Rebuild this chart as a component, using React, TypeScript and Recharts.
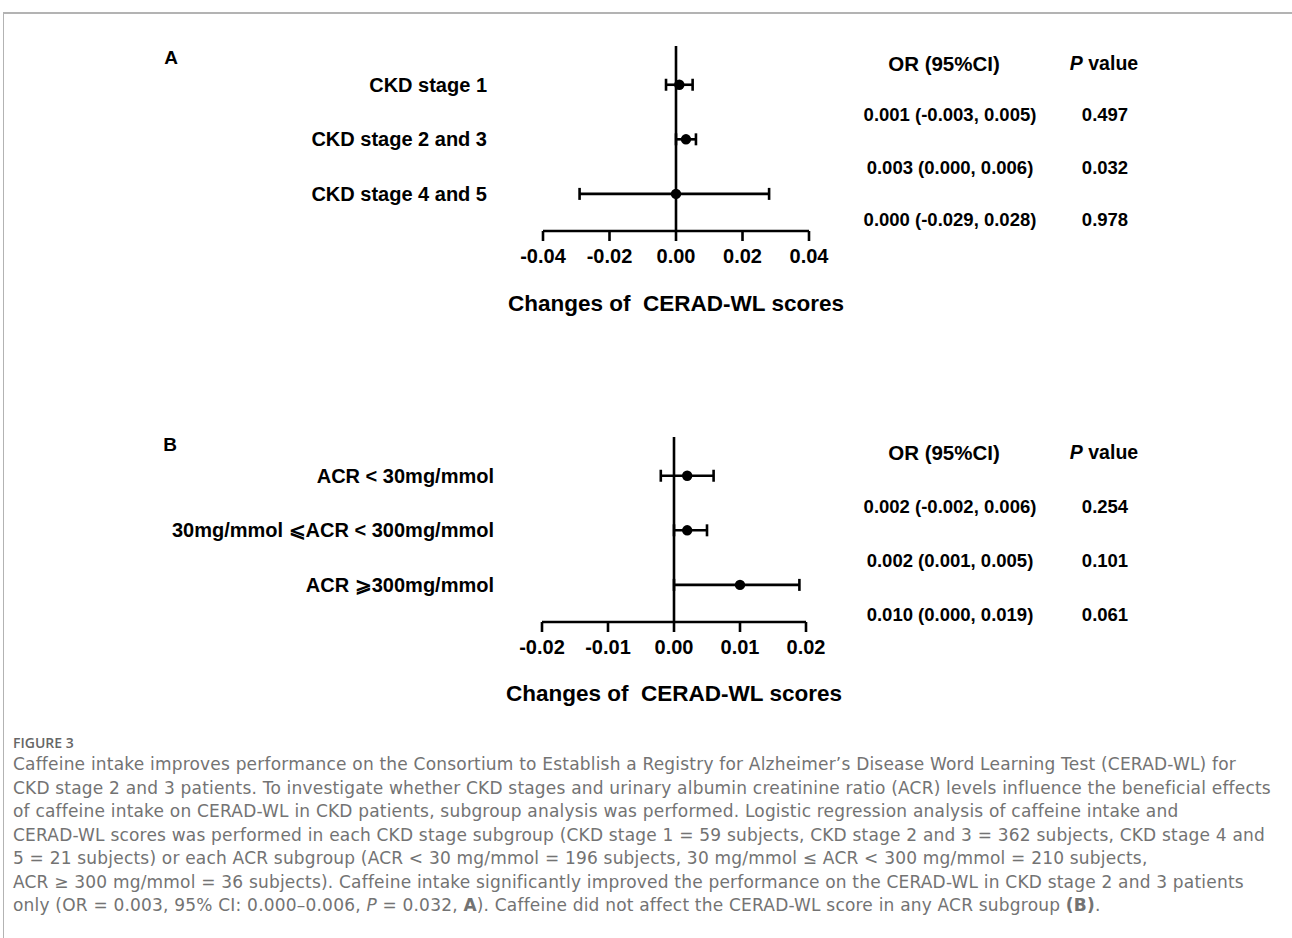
import React from 'react';
import { ScatterChart, Scatter, XAxis, YAxis, ErrorBar, ReferenceLine } from 'recharts';

// Panel A - CKD stage subgroups
const labelsA = ['CKD stage 1', 'CKD stage 2 and 3', 'CKD stage 4 and 5'];
const estA = [0.001, 0.003, 0.0];
const lowA = [-0.003, 0.0, -0.029];
const highA = [0.005, 0.006, 0.028];
const orTextA = ['0.001 (-0.003, 0.005)', '0.003 (0.000, 0.006)', '0.000 (-0.029, 0.028)'];
const pA = ['0.497', '0.032', '0.978'];
const ticksA = [-0.04, -0.02, 0, 0.02, 0.04];

// Panel B - ACR subgroups
const labelsB = ['ACR < 30mg/mmol', '30mg/mmol \u2A7DACR < 300mg/mmol', 'ACR \u2A7E300mg/mmol'];
const estB = [0.002, 0.002, 0.01];
const lowB = [-0.002, 0.0, 0.0];
const highB = [0.006, 0.005, 0.019];
const orTextB = ['0.002 (-0.002, 0.006)', '0.002 (0.001, 0.005)', '0.010 (0.000, 0.019)'];
const pB = ['0.254', '0.101', '0.061'];
const ticksB = [-0.02, -0.01, 0, 0.01, 0.02];

const captionLines = [
  'Caffeine intake improves performance on the Consortium to Establish a Registry for Alzheimer\u2019s Disease Word Learning Test (CERAD-WL) for',
  'CKD stage 2 and 3 patients. To investigate whether CKD stages and urinary albumin creatinine ratio (ACR) levels influence the beneficial effects',
  'of caffeine intake on CERAD-WL in CKD patients, subgroup analysis was performed. Logistic regression analysis of caffeine intake and',
  'CERAD-WL scores was performed in each CKD stage subgroup (CKD stage 1 = 59 subjects, CKD stage 2 and 3 = 362 subjects, CKD stage 4 and',
  '5 = 21 subjects) or each ACR subgroup (ACR < 30 mg/mmol = 196 subjects, 30 mg/mmol \u2264 ACR < 300 mg/mmol = 210 subjects,',
  'ACR \u2265 300 mg/mmol = 36 subjects). Caffeine intake significantly improved the performance on the CERAD-WL in CKD stage 2 and 3 patients',
];

const FONT = '"Liberation Sans", Arial, sans-serif';
const CAPTION_FONT = '"DejaVu Sans", "Open Sans", sans-serif';

interface ForestProps {
  top: number;
  plotLeft: number;
  plotRight: number;
  labelGap: number;
  labels: string[];
  est: number[];
  low: number[];
  high: number[];
  ticks: number[];
}

function Forest({ top, plotLeft, plotRight, labelGap, labels, est, low, high, ticks }: ForestProps) {
  const rows = est.map((v, i) => ({ x: v, y: i, err: [v - low[i], high[i] - v] }));
  const width = plotRight + 40;
  return (
    <div style={{ position: 'absolute', left: 0, top }}>
      <ScatterChart width={width} height={280} margin={{ top: 46, right: 40, left: 0, bottom: 5 }}>
        <XAxis
          type="number"
          dataKey="x"
          domain={[ticks[0], ticks[ticks.length - 1]]}
          ticks={ticks}
          tickFormatter={(v: number) => v.toFixed(2)}
          axisLine={{ stroke: '#000', strokeWidth: 2.6 }}
          tickLine={{ stroke: '#000', strokeWidth: 2.6 }}
          tickSize={10}
          tickMargin={8}
          height={44}
          tick={{ fill: '#000', fontSize: 20, fontWeight: 700, fontFamily: FONT }}
          interval={0}
        />
        <YAxis
          type="number"
          dataKey="y"
          domain={[-0.71, 2.68]}
          reversed
          ticks={[0, 1, 2]}
          interval={0}
          tickFormatter={(i: number) => labels[i] ?? ''}
          axisLine={false}
          tickLine={false}
          tickSize={0}
          tickMargin={labelGap}
          width={plotLeft}
          tick={{ fill: '#000', fontSize: 20, fontWeight: 700, fontFamily: FONT }}
        />
        <ReferenceLine x={0} stroke="#000" strokeWidth={2.6} />
        <Scatter
          data={rows}
          isAnimationActive={false}
          shape={(p: any) => <circle cx={p.cx} cy={p.cy} r={5.2} fill="#000" />}
        >
          <ErrorBar dataKey="err" direction="x" width={6} strokeWidth={2.6} stroke="#000" isAnimationActive={false} />
        </Scatter>
      </ScatterChart>
    </div>
  );
}

const centered = (cx: number, cy: number, fs: number): React.CSSProperties => ({
  position: 'absolute',
  left: cx,
  top: cy - fs / 2,
  transform: 'translateX(-50%)',
  fontSize: fs,
  lineHeight: `${fs}px`,
  fontWeight: 700,
  fontFamily: FONT,
  color: '#000',
  whiteSpace: 'nowrap',
});

function Table({ headerY, rowY, orText, pText }: { headerY: number; rowY: number[]; orText: string[]; pText: string[] }) {
  return (
    <>
      <div style={centered(944, headerY, 20.5)}>OR (95%CI)</div>
      <div style={centered(1104, headerY, 19.5)}>
        <i>P</i> value
      </div>
      {orText.map((t, i) => (
        <div key={'or' + i} style={centered(950, rowY[i], 18.5)}>{t}</div>
      ))}
      {pText.map((t, i) => (
        <div key={'p' + i} style={centered(1105, rowY[i], 18.5)}>{t}</div>
      ))}
    </>
  );
}

export default function App() {
  return (
    <div style={{ position: 'absolute', left: 0, top: 0, width: 1292, height: 938, background: '#fff', overflow: 'hidden' }}>
      <div
        style={{
          position: 'absolute',
          left: 3,
          top: 12,
          right: -2,
          bottom: -10,
          borderTop: '2px solid #b3b3b3',
          borderLeft: '1px solid #b3b3b3',
        }}
      />

      {/* Panel A */}
      <div style={centered(171, 57, 19)}>A</div>
      <Forest
        top={0}
        plotLeft={543}
        plotRight={809}
        labelGap={56}
        labels={labelsA}
        est={estA}
        low={lowA}
        high={highA}
        ticks={ticksA}
      />
      <div style={centered(676, 304, 22.5)}>Changes of&nbsp; CERAD-WL scores</div>
      <Table headerY={64} rowY={[115, 168, 220]} orText={orTextA} pText={pA} />

      {/* Panel B */}
      <div style={centered(170, 444, 19)}>B</div>
      <Forest
        top={391}
        plotLeft={542}
        plotRight={806}
        labelGap={48}
        labels={labelsB}
        est={estB}
        low={lowB}
        high={highB}
        ticks={ticksB}
      />
      <div style={centered(674, 694, 22.5)}>Changes of&nbsp; CERAD-WL scores</div>
      <Table headerY={453} rowY={[507, 561, 615]} orText={orTextB} pText={pB} />

      {/* Caption */}
      <div
        style={{
          position: 'absolute',
          left: 13,
          top: 733,
          fontFamily: '"Open Sans", sans-serif',
          fontSize: 14,
          fontWeight: 600,
          color: '#666',
        }}
      >
        FIGURE 3
      </div>
      <div
        style={{
          position: 'absolute',
          left: 13,
          top: 753,
          fontFamily: CAPTION_FONT,
          fontSize: 17,
          letterSpacing: 0.2,
          fontWeight: 400,
          lineHeight: '23.5px',
          color: '#737373',
          whiteSpace: 'nowrap',
        }}
      >
        {captionLines.map((l, i) => (
          <div key={i}>{l}</div>
        ))}
        <div>
          only (OR = 0.003, 95% CI: 0.000{'\u2013'}0.006, <i>P</i> = 0.032, <b>A</b>). Caffeine did not affect the CERAD-WL
          score in any ACR subgroup <b>(B)</b>.
        </div>
      </div>
    </div>
  );
}
